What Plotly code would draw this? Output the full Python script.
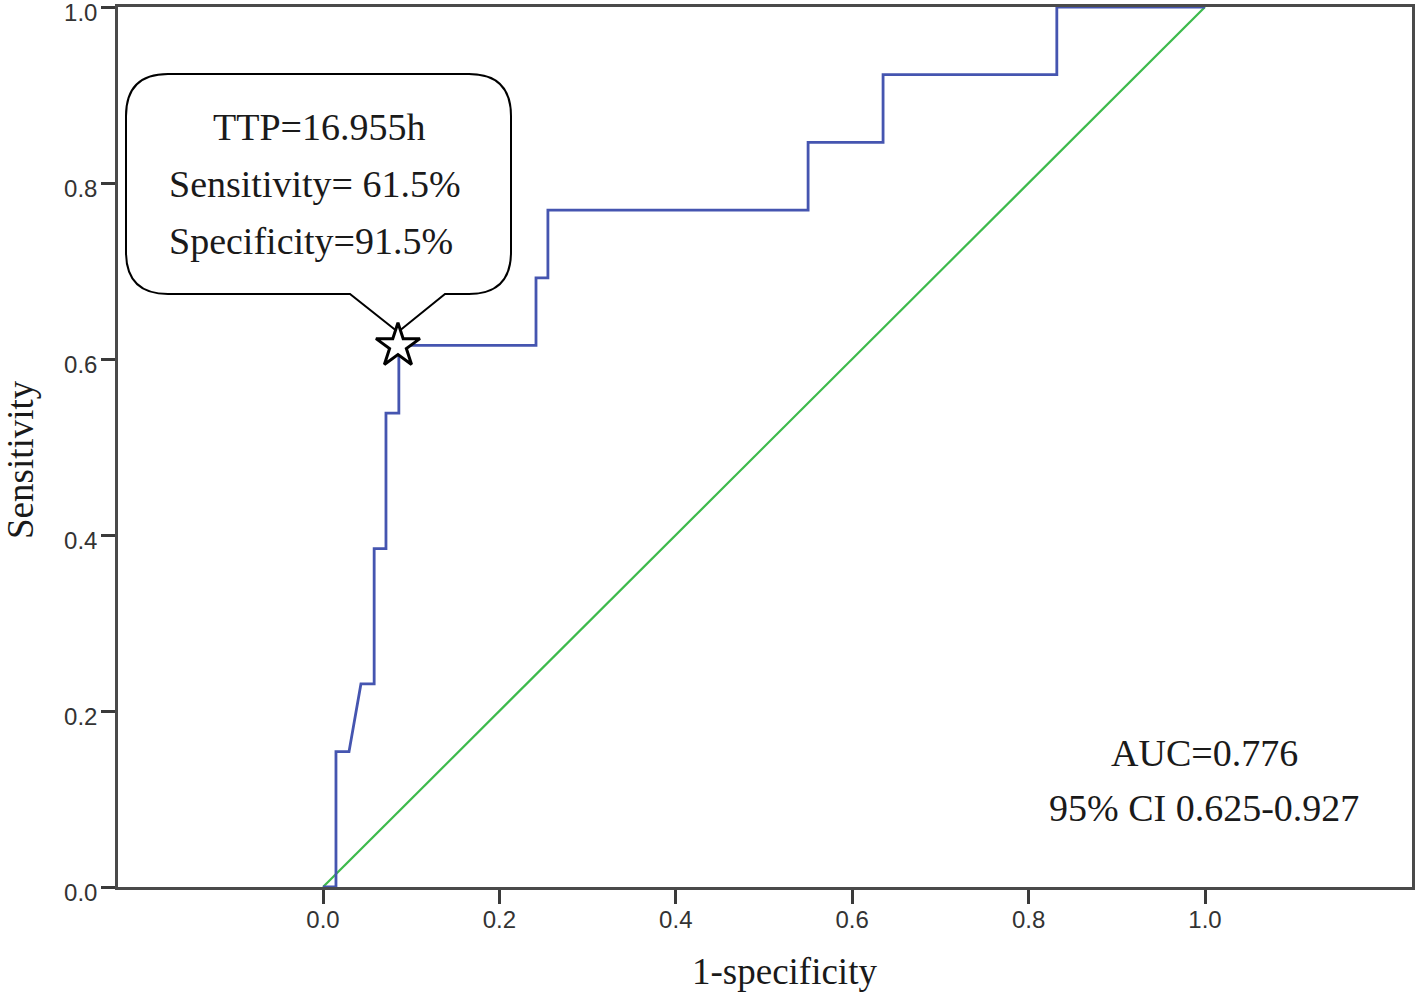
import plotly.graph_objects as go

# ROC curve data (1-specificity, sensitivity)
fpr = [0.0, 0.0147, 0.0147, 0.0295, 0.043, 0.058, 0.058, 0.0714, 0.0714, 0.086, 0.086,
       0.2415, 0.2415, 0.255, 0.255, 0.55, 0.55, 0.635, 0.635, 0.832, 0.832, 1.0]
tpr = [0.0, 0.0, 0.1538, 0.1538, 0.2308, 0.2308, 0.3846, 0.3846, 0.5385, 0.5385, 0.6154,
       0.6154, 0.6923, 0.6923, 0.7692, 0.7692, 0.8462, 0.8462, 0.9231, 0.9231, 1.0, 1.0]
ref_x = [0.0, 1.0]
ref_y = [0.0, 1.0]
cut_x = [0.085]
cut_y = [0.615]
tick_vals = [0.0, 0.2, 0.4, 0.6, 0.8, 1.0]
tick_text = ["0.0", "0.2", "0.4", "0.6", "0.8", "1.0"]
callout_lines = ["TTP=16.955h", "Sensitivity= 61.5%", "Specificity=91.5%"]
auc_lines = ["AUC=0.776", "95% CI 0.625-0.927"]

# pixel -> data helpers (plot area: x 0 at px 323, 1 at px 1205; y 0 at px 887, 1 at px 7)
def dx(px):
    return (px - 323) / 882.0

def dy(py):
    return (887 - py) / 880.0

SERIF = "Liberation Serif, Times New Roman, serif"
SANS = "Liberation Sans, Arial, sans-serif"
TXT = "#1a1a1a"

fig = go.Figure()
fig.add_trace(go.Scatter(x=ref_x, y=ref_y, mode="lines",
                         line=dict(color="#3dba4c", width=2.2), hoverinfo="skip", showlegend=False))
fig.add_trace(go.Scatter(x=fpr, y=tpr, mode="lines",
                         line=dict(color="#4555b0", width=2.8), showlegend=False))
fig.add_trace(go.Scatter(x=cut_x, y=cut_y, mode="markers",
                         marker=dict(symbol="star", size=33, color="white",
                                     line=dict(color="black", width=3)),
                         showlegend=False))

# callout bubble
L, R, T, B = dx(126), dx(511), dy(74), dy(294)
rx, ry = 42 / 882.0, 42 / 880.0
tl, tr = dx(350), dx(445)
tipx, tipy = cut_x[0], dy(332)
path = (f"M {L+rx},{T} L {R-rx},{T} Q {R},{T} {R},{T-ry} L {R},{B+ry} Q {R},{B} {R-rx},{B} "
        f"L {tr},{B} L {tipx},{tipy} L {tl},{B} L {L+rx},{B} Q {L},{B} {L},{B+ry} "
        f"L {L},{T-ry} Q {L},{T} {L+rx},{T} Z")
fig.add_shape(type="path", path=path, xref="x", yref="y", layer="below",
              line=dict(color="black", width=2), fillcolor="white")

fig.add_annotation(x=dx(319), y=dy(127), xref="x", yref="y", text=callout_lines[0],
                   showarrow=False, xanchor="center", yanchor="middle",
                   font=dict(family=SERIF, size=38, color=TXT))
fig.add_annotation(x=dx(167), y=dy(184), xref="x", yref="y", text=callout_lines[1],
                   showarrow=False, xanchor="left", yanchor="middle",
                   font=dict(family=SERIF, size=38, color=TXT))
fig.add_annotation(x=dx(167), y=dy(241), xref="x", yref="y", text=callout_lines[2],
                   showarrow=False, xanchor="left", yanchor="middle",
                   font=dict(family=SERIF, size=38, color=TXT))

fig.add_annotation(x=dx(1204), y=dy(753), xref="x", yref="y", text=auc_lines[0],
                   showarrow=False, xanchor="center", yanchor="middle",
                   font=dict(family=SERIF, size=38, color=TXT))
fig.add_annotation(x=dx(1204), y=dy(808), xref="x", yref="y", text=auc_lines[1],
                   showarrow=False, xanchor="center", yanchor="middle",
                   font=dict(family=SERIF, size=38, color=TXT))

# axis titles
fig.add_annotation(x=(784 - 118) / 1294.0, y=dy(971), xref="paper", yref="paper",
                   text="1-specificity", showarrow=False, xanchor="center", yanchor="middle",
                   font=dict(family=SERIF, size=37, color=TXT))
fig.add_annotation(x=-(118 - 20) / 1294.0, y=dy(460), xref="paper", yref="paper",
                   text="Sensitivity", showarrow=False, xanchor="center", yanchor="middle",
                   textangle=-90, font=dict(family=SERIF, size=37, color=TXT))

axis_common = dict(showgrid=False, zeroline=False, showline=True, mirror=True,
                   linecolor="#4a4a4a", linewidth=2.5, ticks="outside", ticklen=14,
                   tickwidth=2.5, tickcolor="#3a3a3a", ticklabeloverflow="allow",
                   automargin=False,
                   tickfont=dict(family=SANS, size=24, color="#333333"),
                   tickvals=tick_vals, ticktext=tick_text)

fig.update_xaxes(range=[dx(118), dx(1412)], ticklabelstandoff=-5, **axis_common)
fig.update_yaxes(range=[0, 1], ticklabelstandoff=-1, ticklabelshift=6, **axis_common)

fig.update_layout(width=1418, height=996, plot_bgcolor="white", paper_bgcolor="white",
                  margin=dict(l=118, r=6, t=7, b=109), showlegend=False)

fig.write_html("out.html", config={"displayModeBar": False},
               post_script="document.body.style.margin='0';document.body.style.overflow='hidden';")
